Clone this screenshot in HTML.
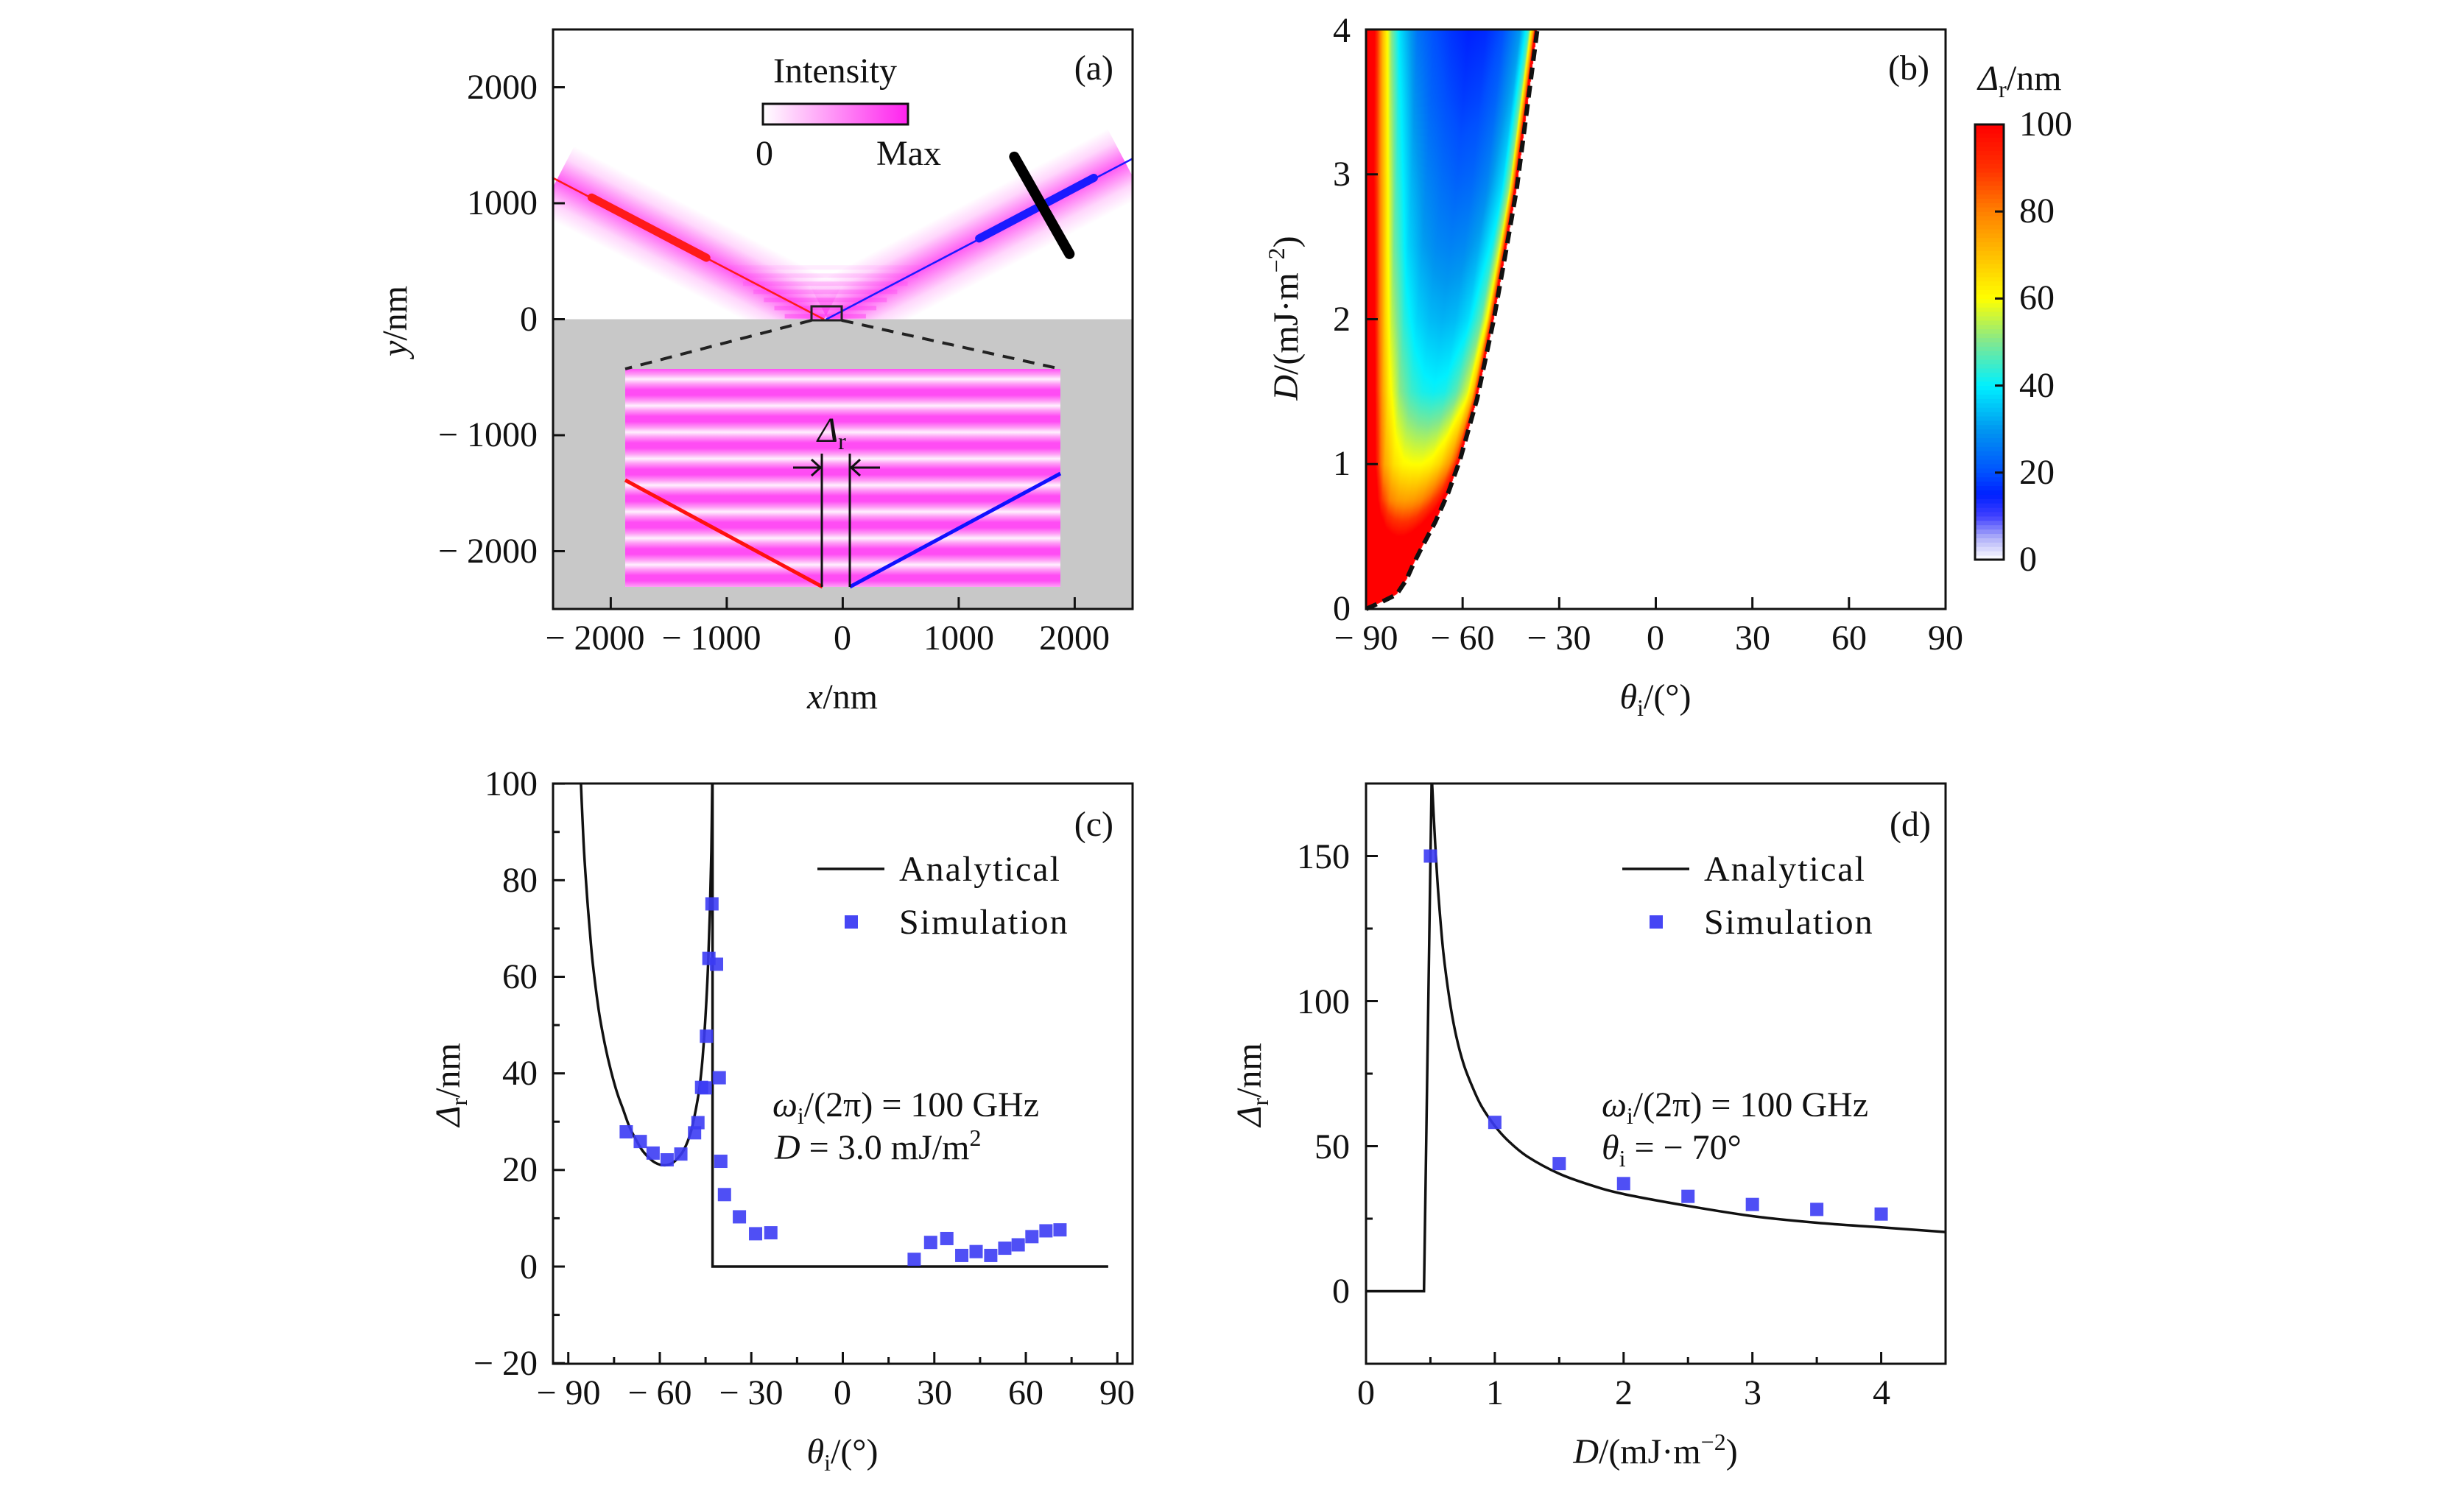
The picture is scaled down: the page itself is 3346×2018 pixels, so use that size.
<!DOCTYPE html>
<html><head><meta charset="utf-8"><style>
html,body{margin:0;padding:0;background:#fff;}
#wrap{position:relative;width:3346px;height:2018px;overflow:hidden;}
#heat{position:absolute;left:1855px;top:40px;}
#chart{position:absolute;left:0;top:0;}
text{font-family:"Liberation Serif",serif;font-size:48px;fill:#111;}
</style></head><body>
<div id="wrap">
<canvas id="heat" width="787" height="787"></canvas>
<svg id="chart" width="3346" height="2018" xmlns="http://www.w3.org/2000/svg">
<defs>
<clipPath id="clipA"><rect x="751" y="40" width="787" height="393.5"/></clipPath>
<clipPath id="clipC"><rect x="751" y="1064" width="787" height="788"/></clipPath>
<clipPath id="clipD"><rect x="1855" y="1064" width="787" height="788"/></clipPath>
<linearGradient id="intGrad" x1="0" y1="0" x2="1" y2="0"><stop offset="0" stop-color="#ffffff"/><stop offset="1" stop-color="#ff22ee"/></linearGradient>
<linearGradient id="fr" x1="0" y1="0" x2="0" y2="1">
<stop offset="0" stop-color="#fff0fe"/><stop offset="0.18" stop-color="#ff9cf6"/><stop offset="0.4" stop-color="#ff4cf4"/><stop offset="0.6" stop-color="#ff4cf4"/><stop offset="0.82" stop-color="#ff9cf6"/><stop offset="1" stop-color="#fff0fe"/>
</linearGradient>
<pattern id="fringe" patternUnits="userSpaceOnUse" x="0" y="515" width="10" height="36">
<rect width="10" height="36" fill="url(#fr)"/>
</pattern>
</defs>

<!-- panel a -->
<g id="panelA">
<g id="bandsA" clip-path="url(#clipA)"></g>
<rect x="751" y="433.5" width="787" height="393.5" fill="#c8c8c8"/>
<rect x="849" y="501" width="591" height="296" fill="url(#fringe)"/>
<g id="beamsA"></g>
<rect x="1102" y="416" width="41" height="19" fill="none" stroke="#222" stroke-width="3"/>
<line x1="1102" y1="435" x2="849" y2="501" stroke="#222" stroke-width="4" stroke-dasharray="16 12"/>
<line x1="1143" y1="435" x2="1440" y2="501" stroke="#222" stroke-width="4" stroke-dasharray="16 12"/>
<line x1="849" y1="652" x2="1117" y2="797" stroke="#ff1010" stroke-width="5"/>
<line x1="1154" y1="797" x2="1440" y2="643" stroke="#1010ff" stroke-width="5"/>
<line x1="1116" y1="616" x2="1116" y2="797" stroke="#111" stroke-width="3"/>
<line x1="1154" y1="616" x2="1154" y2="797" stroke="#111" stroke-width="3"/>
<path d="M1077 635 H1114 M1102 624 L1114 635 L1102 646 M1195 635 H1156 M1168 624 L1156 635 L1168 646" stroke="#111" stroke-width="3" fill="none"/>
<text x="1110" y="600" font-style="italic">Δ<tspan font-size="32" font-style="normal" dy="10">r</tspan></text>
<rect x="1036" y="141" width="197" height="28" fill="url(#intGrad)" stroke="#111" stroke-width="3"/>
<text x="1134" y="112" text-anchor="middle">Intensity</text>
<text x="1038" y="224" text-anchor="middle">0</text>
<text x="1234" y="224" text-anchor="middle">Max</text>
<text x="1512" y="108" text-anchor="end">(a)</text>
<rect x="751" y="40" width="787" height="787" fill="none" stroke="#111" stroke-width="3"/>
<g id="ticksA"></g>
<g text-anchor="end">
<text x="730" y="134">2000</text><text x="730" y="291">1000</text><text x="730" y="449">0</text><text x="730" y="606">− 1000</text><text x="730" y="764">− 2000</text></g>
<g text-anchor="middle">
<text x="808" y="882">− 2000</text><text x="966" y="882">− 1000</text><text x="1144" y="882">0</text><text x="1302" y="882">1000</text><text x="1459" y="882">2000</text></g>
<text x="1144" y="962" text-anchor="middle"><tspan font-style="italic">x</tspan>/nm</text>
<text transform="translate(552,436) rotate(-90)" text-anchor="middle"><tspan font-style="italic">y</tspan>/nm</text>
</g>

<!-- panel b -->
<g id="panelB">
<polyline id="boundaryB" fill="none" stroke="#111" stroke-width="6" stroke-dasharray="16 9"/>
<rect x="1855" y="40" width="787" height="787" fill="none" stroke="#111" stroke-width="3"/>
<g id="ticksB"></g>
<text x="2620" y="108" text-anchor="end">(b)</text>
<g text-anchor="end">
<text x="1834" y="57">4</text><text x="1834" y="252">3</text><text x="1834" y="449">2</text><text x="1834" y="645">1</text><text x="1834" y="842">0</text></g>
<g text-anchor="middle">
<text x="1855" y="882">− 90</text><text x="1986" y="882">− 60</text><text x="2117" y="882">− 30</text><text x="2248" y="882">0</text><text x="2380" y="882">30</text><text x="2511" y="882">60</text><text x="2642" y="882">90</text></g>
<text x="2248" y="962" text-anchor="middle"><tspan font-style="italic">θ</tspan><tspan font-size="32" dy="10">i</tspan><tspan dy="-10">/(°)</tspan></text>
<text transform="translate(1762,432) rotate(-90)" text-anchor="middle"><tspan font-style="italic">D</tspan>/(mJ·m<tspan font-size="32" dy="-18">−2</tspan><tspan dy="18">)</tspan></text>
<g id="cbar"></g>
<rect x="2682" y="169" width="39" height="591" fill="none" stroke="#111" stroke-width="3"/>
<g>
<text x="2742" y="184">100</text><text x="2742" y="302">80</text><text x="2742" y="420">60</text><text x="2742" y="539">40</text><text x="2742" y="657">20</text><text x="2742" y="775">0</text></g>
<text x="2686" y="122"><tspan font-style="italic">Δ</tspan><tspan font-size="32" dy="10">r</tspan><tspan dy="-10">/nm</tspan></text>
</g>

<!-- panel c -->
<g id="panelC">
<path id="lineC" fill="none" stroke="#111" stroke-width="3.5" clip-path="url(#clipC)"/>
<g id="ptsC"></g>
<rect x="751" y="1064" width="787" height="788" fill="none" stroke="#111" stroke-width="3"/>
<g id="ticksC"></g>
<text x="1512" y="1135" text-anchor="end">(c)</text>
<line x1="1110" y1="1180" x2="1201" y2="1180" stroke="#111" stroke-width="3.5"/>
<text x="1221" y="1196" letter-spacing="2">Analytical</text>
<rect x="1147" y="1243" width="18" height="18" fill="#4646f4"/>
<text x="1221" y="1268" letter-spacing="2">Simulation</text>
<text x="1049" y="1516"><tspan font-style="italic">ω</tspan><tspan font-size="32" dy="10">i</tspan><tspan dy="-10">/(2π) = 100 GHz</tspan></text>
<text x="1052" y="1574"><tspan font-style="italic">D</tspan> = 3.0 mJ/m<tspan font-size="32" dy="-18">2</tspan></text>
<g text-anchor="end">
<text x="730" y="1080">100</text><text x="730" y="1211">80</text><text x="730" y="1342">60</text><text x="730" y="1473">40</text><text x="730" y="1604">20</text><text x="730" y="1736">0</text><text x="730" y="1867">− 20</text></g>
<g text-anchor="middle">
<text x="772" y="1907">− 90</text><text x="896" y="1907">− 60</text><text x="1020" y="1907">− 30</text><text x="1144" y="1907">0</text><text x="1269" y="1907">30</text><text x="1393" y="1907">60</text><text x="1517" y="1907">90</text></g>
<text x="1144" y="1987" text-anchor="middle"><tspan font-style="italic">θ</tspan><tspan font-size="32" dy="10">i</tspan><tspan dy="-10">/(°)</tspan></text>
<text transform="translate(624,1473) rotate(-90)" text-anchor="middle"><tspan font-style="italic">Δ</tspan><tspan font-size="32" dy="10">r</tspan><tspan dy="-10">/nm</tspan></text>
</g>

<!-- panel d -->
<g id="panelD">
<path id="lineD" fill="none" stroke="#111" stroke-width="3.5" clip-path="url(#clipD)"/>
<g id="ptsD"></g>
<rect x="1855" y="1064" width="787" height="788" fill="none" stroke="#111" stroke-width="3"/>
<g id="ticksD"></g>
<text x="2622" y="1135" text-anchor="end">(d)</text>
<line x1="2203" y1="1180" x2="2294" y2="1180" stroke="#111" stroke-width="3.5"/>
<text x="2314" y="1196" letter-spacing="2">Analytical</text>
<rect x="2240" y="1243" width="18" height="18" fill="#4646f4"/>
<text x="2314" y="1268" letter-spacing="2">Simulation</text>
<text x="2175" y="1516"><tspan font-style="italic">ω</tspan><tspan font-size="32" dy="10">i</tspan><tspan dy="-10">/(2π) = 100 GHz</tspan></text>
<text x="2175" y="1574"><tspan font-style="italic">θ</tspan><tspan font-size="32" dy="10">i</tspan><tspan dy="-10"> = − 70°</tspan></text>
<g text-anchor="end">
<text x="1833" y="1179">150</text><text x="1833" y="1376">100</text><text x="1833" y="1573">50</text><text x="1833" y="1769">0</text></g>
<g text-anchor="middle">
<text x="1855" y="1907">0</text><text x="2030" y="1907">1</text><text x="2205" y="1907">2</text><text x="2380" y="1907">3</text><text x="2555" y="1907">4</text></g>
<text x="2248" y="1987" text-anchor="middle"><tspan font-style="italic">D</tspan>/(mJ·m<tspan font-size="32" dy="-18">−2</tspan><tspan dy="18">)</tspan></text>
<text transform="translate(1712,1473) rotate(-90)" text-anchor="middle"><tspan font-style="italic">Δ</tspan><tspan font-size="32" dy="10">r</tspan><tspan dy="-10">/nm</tspan></text>
</g>
</svg>
</div>
<script>
// ---------- data ----------
// panel (b): critical boundary
const boundaryD = [0,0.05,0.1,0.2,0.3,0.41,0.6,0.8,1.03,1.45,2.0,2.5,2.9,3.5,4.0];
const boundaryTheta = [-90,-85,-80.5,-77.5,-75.5,-73,-68.5,-64.5,-60.8,-55.5,-50.3,-46.3,-43.2,-39.7,-36.8];
// panel (b): heat values Δr (nm) on rows of D vs fractional position across the allowed region
const heatRowsD = [0,0.25,0.5,0.75,1,1.5,2,2.5,3,3.5,4];
const heatU = [0,0.05,0.1,0.15,0.2,0.3,0.4,0.5,0.6,0.7,0.8,0.9,0.95,0.98,1];
const heatRow0 = [200,200,200,200,200,200,200,200,200,200,200,200,200,200,200];
const heatRow025 = [200,180,160,150,140,130,125,122,122,125,130,140,150,160,200];
const heatRow05 = [200,160,140,125,115,106,102,100,100,102,106,112,118,125,150];
const heatRow075 = [200,140,115,100,90,80,76,75,76,79,85,93,99,105,150];
const heatRow1 = [200,125,100,85,74,65,61,60,60,62,67,77,87,97,150];
const heatRow15 = [200,115,90,74,63,51,45,42,41,42,47,57,70,92,150];
const heatRow2 = [200,108,84,67,55,43,37,34,33,34,38,48,62,90,150];
const heatRow25 = [200,104,80,62,49,37,31,28,27,28,32,42,57,88,150];
const heatRow3 = [200,100,76,58,45,33,27,24,22,23,27,37,52,86,150];
const heatRow35 = [200,100,73,54,42,29,23,20,18,19,23,33,49,82,150];
const heatRow4 = [200,100,70,50,38,25,20,17,15,16,20,30,45,80,150];
const heatGrid = [heatRow0,heatRow025,heatRow05,heatRow075,heatRow1,heatRow15,heatRow2,heatRow25,heatRow3,heatRow35,heatRow4];
const cbarTicks = [0,20,40,60,80,100];
// panel (c): smooth analytical branch, then step down and zero branch
const thetaAnalytic = [-86.2,-85,-84,-83,-82,-80,-78,-76,-74,-72,-70,-68,-66,-64,-62,-60,-58,-56,-54,-52,-50,-48.5,-47,-46,-45,-44.2,-43.6,-43.1,-42.8];
const deltaAnalytic = [105,88,78,70,63,53,46,40.5,36,32.5,29,26.5,24.3,22.8,21.7,21.1,21.0,21.4,22.5,24.3,27.5,31.5,37,43,52,62,73,86,100];
const thetaStep = [-42.7,-42.7,87];
const deltaStep = [100,0,0];
const thetaSim = [-71,-66.4,-62.2,-57.6,-53.1,-48.6,-47.5,-46.3,-45.1,-44.7,-43.9,-41.4,-42.9,-40.5,-40,-38.8,-33.9,-28.6,-23.6,23.4,28.8,34.1,39,43.7,48.5,53.1,57.5,62,66.6,71.2];
const deltaSim = [27.9,25.9,23.5,22.1,23.3,27.7,29.8,37.1,37,47.7,63.8,62.6,75.1,39.1,21.8,14.9,10.3,6.8,7,1.5,5,5.8,2.3,3.1,2.3,3.8,4.5,6.2,7.4,7.6];
const cXTicks = [-90,-60,-30,0,30,60,90];
const cYTicks = [-20,0,20,40,60,80,100];
// panel (d)
const dStep = [0,0.45,0.51];
const deltaStepD = [0,0,178];
const dAnalytic = [0.51,0.53,0.56,0.6,0.65,0.7,0.76,0.83,0.9,1.0,1.1,1.25,1.5,1.75,2,2.5,3,3.5,4,4.5];
const deltaAnalyticD = [178,160,138,117,100,88,78,70,63.5,57,52,46.5,40.5,36.5,33.5,29.4,25.9,23.6,22,20.4];
const dSim = [0.5,1,1.5,2,2.5,3,3.5,4];
const deltaSimD = [150,58.2,44,37.1,32.7,29.9,28.2,26.6];
const dXTicks = [0,1,2,3,4];
const dYTicks = [0,50,100,150];

// ---------- axes ----------
const SVGNS = "http://www.w3.org/2000/svg";
const aX = v => 1144.4 + v*0.1575, aY = v => 433.5 - v*0.1575;
const bX = v => 1855 + (v+90)/180*787, bY = v => 827 - v/4*787;
const cX = v => 751 + (v+95)/190*787, cY = v => 1720 - v*787/120;
const dX = v => 1855 + v*787/4.5, dY = v => 1064 + (175-v)*788/200;

function interp(xs, ys, x){
  if (x <= xs[0]) return ys[0];
  for (let i=1;i<xs.length;i++){ if (x <= xs[i]){ const t=(x-xs[i-1])/(xs[i]-xs[i-1]); return ys[i-1]+t*(ys[i]-ys[i-1]); } }
  return ys[ys.length-1];
}
function smoothPath(P, start){
  let d = start ? 'M'+P[0][0].toFixed(1)+' '+P[0][1].toFixed(1) : '';
  for (let i=0;i<P.length-1;i++){
    const p0=P[Math.max(0,i-1)], p1=P[i], p2=P[i+1], p3=P[Math.min(P.length-1,i+2)];
    const c1=[p1[0]+(p2[0]-p0[0])/6, p1[1]+(p2[1]-p0[1])/6];
    const c2=[p2[0]-(p3[0]-p1[0])/6, p2[1]-(p3[1]-p1[1])/6];
    d += ' C'+c1.map(v=>v.toFixed(1)).join(' ')+' '+c2.map(v=>v.toFixed(1)).join(' ')+' '+p2.map(v=>v.toFixed(1)).join(' ');
  }
  return d;
}
function mk(tag, parent){ const e=document.createElementNS(SVGNS,tag); parent.appendChild(e); return e; }
function tick(g, x1,y1,x2,y2){
  const l = mk('line', g);
  l.setAttribute('x1',x1); l.setAttribute('y1',y1); l.setAttribute('x2',x2); l.setAttribute('y2',y2);
  l.setAttribute('stroke','#111'); l.setAttribute('stroke-width','3');
  
  
}

// ---------- panel a ----------
(function(){
  const g = document.getElementById('bandsA');
  function band(x0, dx, dy, tmax, col){
    const w = 330, nx = -dy, ny = dx;
    const p = (t,s) => [aX(x0 + dx*t + nx*s), aY(dy*t + ny*s)];
    const pts = [p(0,-w),p(tmax,-w),p(tmax,w),p(0,w)];
    const id = 'bg'+Math.round(Math.abs(x0));
    const defs = document.querySelector('defs');
    const lg = mk('linearGradient', defs);
    lg.setAttribute('id', id); lg.setAttribute('gradientUnits','userSpaceOnUse');
    const m1 = p(tmax/2,-w), m2 = p(tmax/2,w);
    lg.setAttribute('x1',m1[0]); lg.setAttribute('y1',m1[1]); lg.setAttribute('x2',m2[0]); lg.setAttribute('y2',m2[1]);
    [[0,0],[0.2,0.2],[0.5,0.8],[0.8,0.2],[1,0]].forEach(s=>{const st=mk('stop',lg); st.setAttribute('offset',s[0]); st.setAttribute('stop-color',col); st.setAttribute('stop-opacity',s[1]);});
    const poly = mk('polygon', g);
    poly.setAttribute('points', pts.map(q=>q.join(',')).join(' '));
    poly.setAttribute('fill','url(#'+id+')');
    
    
  }
  band(-160, -0.887, 0.462, 2600, '#ff30f0');
  band(-130, 0.885, 0.466, 2900, '#ff30f0');
  for (let k=0;k<7;k++){
    const r = mk('rect', g);
    const yy = 20 + k*70, half = 350 + k*90;
    r.setAttribute('x', aX(-150-half)); r.setAttribute('width', half*2*0.1575);
    r.setAttribute('y', aY(yy+25)); r.setAttribute('height', 6);
    r.setAttribute('fill', '#ff30f0'); r.setAttribute('opacity', (0.45 - k*0.06).toFixed(2));
    
    
  }
  const b = document.getElementById('beamsA');
  function seg(x1,y1,x2,y2,col,w,name){
    const l = mk('line', b);
    l.setAttribute('x1',aX(x1)); l.setAttribute('y1',aY(y1)); l.setAttribute('x2',aX(x2)); l.setAttribute('y2',aY(y2));
    l.setAttribute('stroke',col); l.setAttribute('stroke-width',w); l.setAttribute('stroke-linecap','round');
    
    
  }
  seg(-2500,1219,-165,0,'#ff1a1a',2.5,'incident-ray');
  seg(-140,0,2500,1385,'#1a1aff',2.5,'reflected-ray');
  seg(-2165,1049,-1176,530,'#ff1a1a',11,'incident-packet');
  seg(1176,696,2165,1219,'#1a1aff',11,'reflected-packet');
  seg(1479,1401,1955,563,'#000',14,'detector-bar');
  const t = document.getElementById('ticksA');
  [-2000,-1000,0,1000,2000].forEach(v=>tick(t,aX(v),827,aX(v),811));
  [-2000,-1000,0,1000,2000].forEach(v=>tick(t,751,aY(v),767,aY(v)));
})();

// ---------- panel b ----------
const cmV = [0,5,10,15,20,30,40,50,60,70,80,90,100];
const cmC = [[255,255,255],[176,176,248],[64,64,255],[0,32,255],[0,80,255],[0,152,240],[0,240,255],[128,232,144],[255,255,0],[255,192,0],[255,128,0],[255,48,0],[255,0,0]];
function cmap(v){
  v = Math.max(0, Math.min(100, v));
  for (let i=1;i<cmV.length;i++){ if (v<=cmV[i]){ const t=(v-cmV[i-1])/(cmV[i]-cmV[i-1]); return cmC[i-1].map((c,k)=>Math.round(c+t*(cmC[i][k]-c))); } }
  return cmC[cmC.length-1];
}
(function(){
  const cv = document.getElementById('heat'), ctx = cv.getContext('2d');
  const img = ctx.createImageData(787,787);
  for (let py=0;py<787;py++){
    const D = 4*(1-(py+0.5)/787);
    const tc = interp(boundaryD, boundaryTheta, D);
    let ri = 0; while (ri < heatRowsD.length-2 && D > heatRowsD[ri+1]) ri++;
    const rt = Math.min(1,Math.max(0,(D-heatRowsD[ri])/(heatRowsD[ri+1]-heatRowsD[ri])));
    for (let px=0;px<787;px++){
      const th = -90 + (px+0.5)/787*180;
      if (th > tc) continue;
      const u = (th+90)/(tc+90);
      const v = (1-rt)*interp(heatU, heatGrid[ri], u) + rt*interp(heatU, heatGrid[ri+1], u);
      const c = cmap(v), o = (py*787+px)*4;
      img.data[o]=c[0]; img.data[o+1]=c[1]; img.data[o+2]=c[2]; img.data[o+3]=255;
    }
  }
  ctx.putImageData(img,0,0);
  const bl = document.getElementById('boundaryB');
  bl.setAttribute('points', boundaryD.map((d,i)=>bX(boundaryTheta[i])+','+bY(d)).join(' '));
  const cb = document.getElementById('cbar');
  for (let i=0;i<100;i++){
    const r = mk('rect', cb);
    const c = cmap(i+0.5);
    r.setAttribute('x',2682); r.setAttribute('y', 760 - (i+1)*5.91); r.setAttribute('width',39); r.setAttribute('height',6.4);
    r.setAttribute('fill','rgb('+c.join(',')+')');
    
    
  }
  cbarTicks.forEach(v=>{ const y = 760 - v/100*591; if (v>0 && v<100) tick(cb, 2721, y, 2709, y); });
  const t = document.getElementById('ticksB');
  [-90,-60,-30,0,30,60,90].forEach(v=>tick(t,bX(v),827,bX(v),811));
  [0,1,2,3,4].forEach(v=>tick(t,1855,bY(v),1871,bY(v)));
})();

// ---------- panel c ----------
(function(){
  const P = thetaAnalytic.map((v,i)=>[cX(v), cY(deltaAnalytic[i])]);
  let d = smoothPath(P, true);
  thetaStep.forEach((v,i)=>{ d += ' L'+cX(v).toFixed(1)+' '+cY(deltaStep[i]).toFixed(1); });
  document.getElementById('lineC').setAttribute('d', d);
  const g = document.getElementById('ptsC');
  thetaSim.forEach((v,i)=>{
    const r = mk('rect', g);
    r.setAttribute('x', cX(v)-9); r.setAttribute('y', cY(deltaSim[i])-9); r.setAttribute('width',18); r.setAttribute('height',18);
    r.setAttribute('fill','#3c3cf4'); r.setAttribute('fill-opacity','0.9');
    
    
  });
  const t = document.getElementById('ticksC');
  for (let v=-90; v<=90; v+=15){ const L = (v%30===0)?16:9; tick(t,cX(v),1852,cX(v),1852-L); }
  for (let v=-20; v<=100; v+=10){ const L = (v%20===0)?16:9; tick(t,751,cY(v),751+L,cY(v)); }
})();

// ---------- panel d ----------
(function(){
  let d = dStep.map((v,i)=>(i?'L':'M')+dX(v).toFixed(1)+' '+dY(deltaStepD[i]).toFixed(1)).join(' ');
  d += smoothPath(dAnalytic.map((v,i)=>[dX(v), dY(deltaAnalyticD[i])]), false);
  document.getElementById('lineD').setAttribute('d', d);
  const g = document.getElementById('ptsD');
  dSim.forEach((v,i)=>{
    const r = mk('rect', g);
    r.setAttribute('x', dX(v)-9); r.setAttribute('y', dY(deltaSimD[i])-9); r.setAttribute('width',18); r.setAttribute('height',18);
    r.setAttribute('fill','#3c3cf4'); r.setAttribute('fill-opacity','0.9');
    
    
  });
  const t = document.getElementById('ticksD');
  for (let v=0; v<=4.5; v+=0.5){ const L = (Math.abs(v-Math.round(v))<1e-6)?16:9; tick(t,dX(v),1852,dX(v),1852-L); }
  for (let v=-25; v<=175; v+=25){ const L = (v%50===0)?16:9; tick(t,1855,dY(v),1855+L,dY(v)); }
})();
</script>
</body></html>
